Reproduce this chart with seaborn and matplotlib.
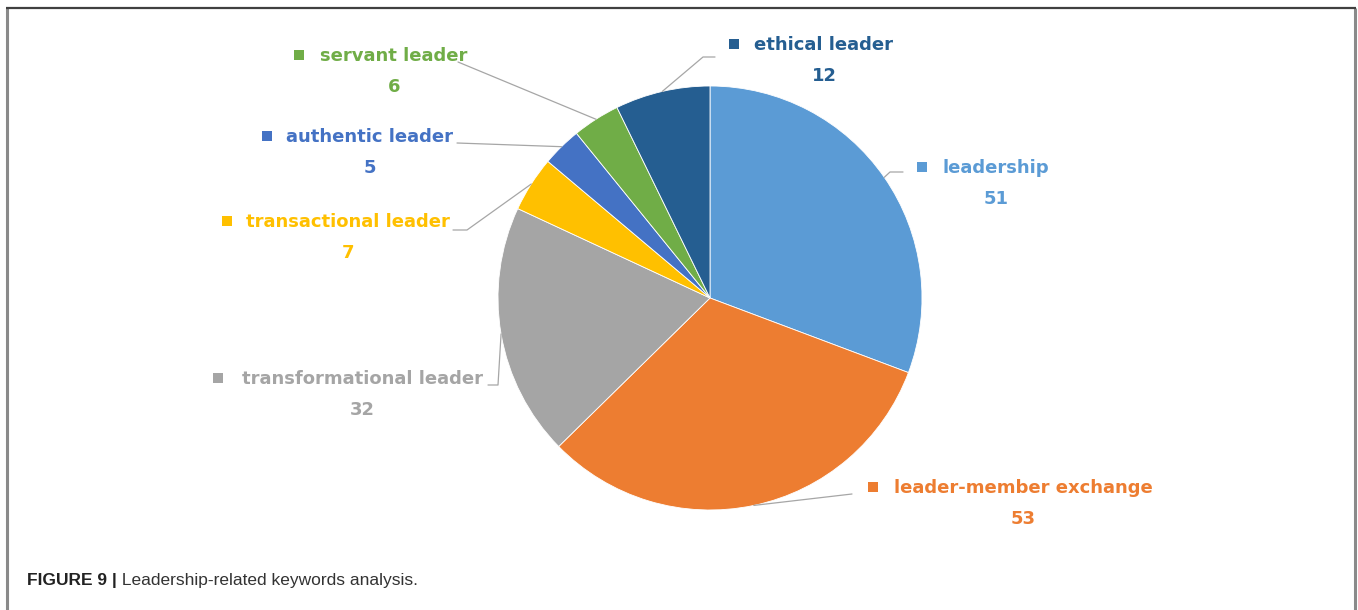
import matplotlib
matplotlib.use("Agg")
import matplotlib.pyplot as plt
import seaborn as sns
import numpy as np

# ---- data ----
categories = ["leadership", "leader-member exchange", "transformational leader",
              "transactional leader", "authentic leader", "servant leader", "ethical leader"]
counts = [51, 53, 32, 7, 5, 6, 12]
colors = ["#5B9BD5", "#ED7D31", "#A5A5A5", "#FFC000", "#4472C4", "#70AD47", "#255E91"]

sns.set_theme(style="white")
plt.rcParams['font.family'] = ['DejaVu Sans']

W, H = 1358, 610
fig = plt.figure(figsize=(W / 100, H / 100), dpi=100)
ax = fig.add_axes([0, 0, 1, 1])

def Y(y):
    return H - y

cx, cy, r = 710, 298, 212
wedges, _ = ax.pie(counts, colors=colors, startangle=90, counterclock=False,
                   center=(cx, Y(cy)), radius=r, frame=True,
                   wedgeprops=dict(edgecolor="white", linewidth=0.6))
ax.set_xlim(0, W)
ax.set_ylim(0, H)
ax.set_aspect("equal")
ax.axis("off")

# label layout (pixel positions, y from top): text centre x, text y, square x, line end, elbow
layout = {
    "leadership":              dict(tx=996, ty=168, sq=922, end=(903, 172), elbow=(890, 172)),
    "leader-member exchange":  dict(tx=1023, ty=488, sq=873, end=(852, 494), elbow=(852, 494)),
    "transformational leader": dict(tx=362, ty=379, sq=218, end=(488, 385), elbow=(498, 385)),
    "transactional leader":    dict(tx=348, ty=222, sq=227, end=(453, 230), elbow=(467, 230)),
    "authentic leader":        dict(tx=370, ty=137, sq=267, end=(457, 143), elbow=(457, 143)),
    "servant leader":          dict(tx=394, ty=56, sq=299, end=(458, 62), elbow=(458, 62)),
    "ethical leader":          dict(tx=824, ty=45, sq=734, end=(715, 57), elbow=(703, 57)),
}

fs = 13
for w, cat, val, col in zip(wedges, categories, counts, colors):
    L = layout[cat]
    mid = np.deg2rad((w.theta1 + w.theta2) / 2)
    ex, ey = cx + r * np.cos(mid), Y(cy) + r * np.sin(mid)
    xs = [ex, L["elbow"][0], L["end"][0]]
    ys = [ey, Y(L["elbow"][1]), Y(L["end"][1])]
    ax.plot(xs, ys, color="#A6A6A6", lw=0.9, zorder=1)
    ax.text(L["tx"], Y(L["ty"]), cat, color=col, fontsize=fs, fontweight="bold",
            ha="center", va="center")
    ax.text(L["tx"], Y(L["ty"] + 31), str(val), color=col, fontsize=fs,
            fontweight="bold", ha="center", va="center")
    ax.scatter([L["sq"]], [Y(L["ty"] - 1)], marker="s", s=42, color=col,
               linewidths=0, zorder=3)

# frame (open at bottom)
ax.plot([7, 7], [Y(8), 0], color="#8a8a8a", lw=2.2, solid_capstyle="butt")
ax.plot([1355, 1355], [Y(8), 0], color="#8a8a8a", lw=2.2, solid_capstyle="butt")
ax.plot([6, 1356], [Y(8), Y(8)], color="#404040", lw=1.6, solid_capstyle="butt")

# caption
t1 = ax.text(27, Y(580), "FIGURE 9 |", fontsize=12.5, fontweight="bold",
             family=["Liberation Sans"], color="#222222", ha="left", va="center")
ax.annotate(" Leadership-related keywords analysis.", xy=(1, 0.5), xycoords=t1,
            fontsize=12.5, family=["Liberation Sans"], color="#333333",
            ha="left", va="center")

fig.savefig("out.png", dpi=100)
